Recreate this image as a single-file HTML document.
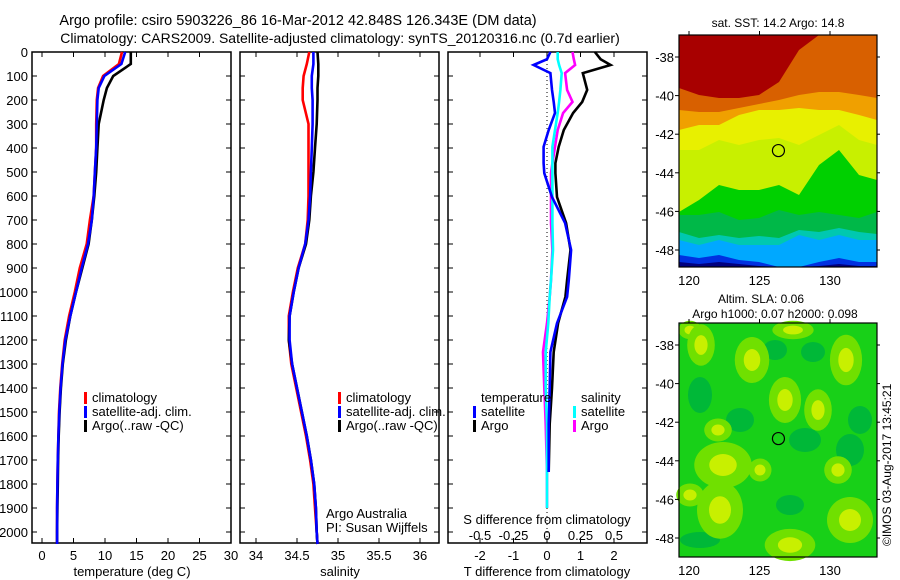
<!DOCTYPE html>
<html><head><meta charset="utf-8"><style>
body{margin:0;background:#fff}
svg{display:block;font-family:"Liberation Sans",sans-serif}
text{fill:#000;font-size:13px}
</style></head><body>
<svg id="c" width="900" height="580" viewBox="0 0 900 580">
<text x="298" y="25" text-anchor="middle" style="font-size:14.5px">Argo profile: csiro 5903226_86 16-Mar-2012 42.848S 126.343E (DM data)</text>
<text x="340" y="43" text-anchor="middle" style="font-size:14px">Climatology: CARS2009. Satellite-adjusted climatology: synTS_20120316.nc (0.7d earlier)</text>
<g id="maps"></g>
<g id="plots"></g>
</svg>
<script>
// ---- data ----
const depths = [0,50,100,150,200,300,400,500,600,700,800,900,1000,1100,1200,1300,1400,1500,1600,1700,1800,1900,2000,2050];
const tClim  = [12.7,12.2,9.7,8.9,8.7,8.6,8.6,8.4,8.2,7.6,7.1,6.0,5.2,4.3,3.6,3.2,2.9,2.7,2.6,2.5,2.45,2.4,2.4,2.4];
const tSat   = [13.2,12.6,9.9,9.0,8.8,8.7,8.6,8.4,8.2,7.9,7.3,6.3,5.4,4.5,3.7,3.25,2.95,2.75,2.6,2.5,2.45,2.4,2.4,2.4];
const tArgo  = [14.1,14.1,11.3,10.3,9.8,9.0,8.8,8.6,8.3,7.9,7.4,6.4,5.4,4.5,3.8,3.3,3.0,2.8,2.65,2.55,2.5,2.45,2.4,2.4];
const sClim  = [34.65,34.62,34.58,34.57,34.57,34.64,34.64,34.64,34.64,34.63,34.6,34.51,34.45,34.40,34.40,34.43,34.49,34.55,34.61,34.66,34.70,34.72,34.74,34.75];
const sSat   = [34.7,34.7,34.68,34.68,34.69,34.69,34.68,34.67,34.66,34.64,34.6,34.52,34.46,34.41,34.41,34.44,34.5,34.56,34.62,34.67,34.71,34.73,34.74,34.75];
const sArgo  = [34.75,34.76,34.76,34.75,34.75,34.74,34.72,34.7,34.67,34.65,34.61,34.52,34.46,34.41,34.40,34.44,34.50,34.56,34.62,34.67,34.71,34.73,34.74,34.75];
const dDepths  = [0,30,54,88,158,208,254,325,395,463,505,604,713,825,950,1020,1130,1250,1400,1550,1750,1900];
const dTSat    = [0.1,0.0,-0.4,0.1,0.15,0.2,0.24,0.05,-0.1,-0.1,-0.08,0.15,0.54,0.72,0.65,0.6,0.3,0.1,0.08,0.05,0.05,null];
const dTArgo   = [1.43,1.6,1.9,1.07,1.2,1.05,0.78,0.5,0.35,0.25,0.25,0.3,0.57,0.7,0.6,0.55,0.33,0.2,0.15,0.08,0.05,null];
const dSSat    = [0.08,0.08,0.09,0.11,0.1,0.09,0.08,0.06,0.04,0.04,0.04,0.04,0.04,0.045,0.03,0.02,0.01,-0.01,-0.01,0.0,0.0,0.0];
const dSArgo   = [0.19,0.2,0.21,0.135,0.15,0.19,0.12,0.08,0.06,0.04,0.03,0.03,0.03,0.04,0.03,0.02,0.0,-0.03,-0.02,-0.01,0.0,0.0];
const depthTicks = [0,100,200,300,400,500,600,700,800,900,1000,1100,1200,1300,1400,1500,1600,1700,1800,1900,2000];
const tTicks = [0,5,10,15,20,25,30];
const sTicks = [34,34.5,35,35.5,36];
const sTickLabels = ["34","34.5","35","35.5","36"];
const dtTicks = [-2,-1,0,1,2];
const dsTicks = [-0.5,-0.25,0,0.25,0.5];
const dsTickLabels = ["-0.5","-0.25","0","0.25","0.5"];
const latTicks = [-38,-40,-42,-44,-46,-48];
const lonTicks = [120,125,130];

const NS="http://www.w3.org/2000/svg";
const plots=document.getElementById('plots');
const maps=document.getElementById('maps');
function mk(tag,attrs,parent,txt){const e=document.createElementNS(NS,tag);for(const k in attrs)e.setAttribute(k,attrs[k]);if(txt!==undefined)e.textContent=txt;(parent||plots).appendChild(e);return e;}

const yD=d=>52+d*0.24;
const xT=t=>42+t*6.3;
const xS=s=>256+(s-34)*82;
const xDT=t=>547+t*33.5;
const xDS=s=>547+s*134;
const TOP=52,BOT=543;

function frame(x0,x1,name){
  const r=mk('rect',{x:x0,y:TOP,width:x1-x0,height:BOT-TOP,fill:'none',stroke:'#000','stroke-width':1.5});
  
  
  depthTicks.forEach(d=>{
    const t1=mk('line',{x1:x0,x2:x0+5,y1:yD(d),y2:yD(d),stroke:'#000'});
    
    
    const t2=mk('line',{x1:x1-5,x2:x1,y1:yD(d),y2:yD(d),stroke:'#000'});
    
    
  });
}
function xticks(vals,fx,labels,ly){
  vals.forEach((v,i)=>{
    const x=fx(v);
    const a=mk('line',{x1:x,x2:x,y1:TOP,y2:TOP+5,stroke:'#000'});
    
    
    const b=mk('line',{x1:x,x2:x,y1:BOT-5,y2:BOT,stroke:'#000'});
    
    
    if(labels){const l=mk('text',{x:x,y:ly,'text-anchor':'middle'},plots,labels[i]);
      
      }
  });
}
function line(xs,ds,fx,color,name){
  const pts=[];xs.forEach((v,i)=>{if(v!==null)pts.push(fx(v).toFixed(1)+','+yD(ds[i]).toFixed(1));});
  const p=mk('polyline',{points:pts.join(' '),fill:'none',stroke:color,'stroke-width':2.6,'stroke-linejoin':'miter'});
  
  
}
function legend(x,y,color,label,name){
  const r=mk('rect',{x:x,y:y-10,width:3,height:12,fill:color});
  
  
  if(label){const t=mk('text',{x:x+8,y:y},plots,label);
  
  }
}

// Panel 1
frame(32,231,'temperature-panel');
depthTicks.forEach(d=>{const l=mk('text',{x:28,y:yD(d)+5,'text-anchor':'end'},plots,String(d));
  
  });
xticks(tTicks,xT,tTicks.map(String),560);
line(tClim,depths,xT,'#f00','temp-climatology-line');
line(tArgo,depths,xT,'#000','temp-argo-line');
line(tSat,depths,xT,'#00f','temp-satellite-line');
legend(84,402,'#f00','climatology','legend-climatology');
legend(84,416,'#00f','satellite-adj. clim.','legend-satellite');
legend(84,430,'#000','Argo(..raw -QC)','legend-argo');
let t=mk('text',{x:132,y:576,'text-anchor':'middle'},plots,'temperature (deg C)');


// Panel 2
frame(240,439,'salinity-panel');
xticks(sTicks,xS,sTickLabels,560);
line(sClim,depths,xS,'#f00','sal-climatology-line');
line(sArgo,depths,xS,'#000','sal-argo-line');
line(sSat,depths,xS,'#00f','sal-satellite-line');
legend(338,402,'#f00','climatology','legend2-climatology');
legend(338,416,'#00f','satellite-adj. clim.','legend2-satellite');
legend(338,430,'#000','Argo(..raw -QC)','legend2-argo');
t=mk('text',{x:326,y:518},plots,'Argo Australia');
t=mk('text',{x:326,y:532},plots,'PI: Susan Wijffels');
t=mk('text',{x:340,y:576,'text-anchor':'middle'},plots,'salinity');

// Panel 3
frame(448,647,'difference-panel');
t=mk('line',{x1:547,x2:547,y1:TOP,y2:BOT,stroke:'#000','stroke-dasharray':'1,3'});

xticks(dtTicks,xDT,dtTicks.map(String),560);
dsTicks.forEach((v,i)=>{const l=mk('text',{x:xDS(v),y:540,'text-anchor':'middle'},plots,dsTickLabels[i]);
  });
line(dSArgo,dDepths,xDS,'#f0f','sal-diff-argo-line');
line(dSSat,dDepths,xDS,'#0ff','sal-diff-satellite-line');
line(dTArgo,dDepths,xDT,'#000','temp-diff-argo-line');
line(dTSat,dDepths,xDT,'#00f','temp-diff-satellite-line');
t=mk('text',{x:481,y:402},plots,'temperature');
t=mk('text',{x:581,y:402},plots,'salinity');
legend(473,416,'#00f','satellite','legend-t-satellite');
legend(473,430,'#000','Argo','legend-t-argo');
legend(573,416,'#0ff','satellite','legend-s-satellite');
legend(573,430,'#f0f','Argo','legend-s-argo');
t=mk('text',{x:547,y:524,'text-anchor':'middle'},plots,'S difference from climatology');
t=mk('text',{x:547,y:576,'text-anchor':'middle'},plots,'T difference from climatology');

// ---- maps ----
const MX0=679,MX1=877;
const lonX=l=>689+(l-120)*14.1;
const latY=(la,top)=>top+22+(-38-la)*19.3;
const bx=[679,699,719,739,759,779,799,819,839,859,877];
const bands=[
 ['#a80000',[88,95,98,98,95,82,50,35,35,35,35]],
 ['#d86000',[110,112,112,108,104,100,95,92,92,95,98]],
 ['#f0a000',[130,125,125,115,110,110,108,110,110,115,120]],
 ['#e8f000',[150,150,140,145,140,138,145,135,125,140,145]],
 ['#c8f000',[212,200,185,190,190,185,195,165,150,175,180]],
 ['#00d000',[215,215,212,220,218,210,215,212,215,218,212]],
 ['#00b848',[232,238,235,238,236,238,230,232,228,232,234]],
 ['#00c8b0',[240,245,240,245,245,245,235,240,235,240,240]],
 ['#00a8ff',[255,258,255,260,262,267,267,262,258,262,262]],
 ['#0030e0',[262,264,262,264,266,267,267,266,264,266,266]],
];
function mapGroup(name){
  const g=mk('g',{},maps);
  
  
  return g;
}
// map 1
const g1=mapGroup('sst-map');
let r=mk('rect',{x:MX0,y:35,width:MX1-MX0,height:232,fill:'#000080'},g1);

for(let b=bands.length-1;b>=0;b--){
  const [col,ys]=bands[b];
  let pts=[MX0+','+35];
  ys.forEach((y,i)=>{pts.push(bx[i]+','+y);});
  pts.push(MX1+','+35);
  const p=mk('polygon',{points:pts.join(' '),fill:col},g1);
  
}
// map 2
const g2=mapGroup('sla-map');
r=mk('rect',{x:MX0,y:323,width:MX1-MX0,height:234,fill:'#18d018'},g2);

[[700,395,12,18],[813,352,12,10],[805,440,16,12],[790,505,14,10],[850,450,14,16],[700,540,20,8],[740,420,14,12],[860,420,12,14],[775,350,12,10]].forEach(b=>{
  const e=mk('ellipse',{cx:b[0],cy:b[1],rx:b[2],ry:b[3],fill:'#00b838'},g2);
  
});
const blobs=[[690,330,10,8],[701,345,12,18],[793,330,18,8],[752,360,15,20],[846,360,14,22],[785,400,14,20],[818,410,12,18],[718,430,12,10],[723,465,25,20],[760,470,10,10],[838,470,12,12],[790,545,22,14],[720,510,20,25],[850,520,20,20],[690,495,12,10]];
blobs.forEach(b=>{
  const e=mk('ellipse',{cx:b[0],cy:b[1],rx:b[2]*1.15,ry:b[3]*1.15,fill:'#70e000'},g2);
  
  const e2=mk('ellipse',{cx:b[0],cy:b[1],rx:b[2]*0.55,ry:b[3]*0.55,fill:'#c8f000'},g2);
  
});
[[35,'sst'],[323,'sla']].forEach(([top,nm])=>{
  const g=nm==='sst'?g1:g2;
  const f=mk('rect',{x:MX0,y:top,width:MX1-MX0,height:nm==='sst'?232:234,fill:'none',stroke:'#000','stroke-width':1.2},g);
  
  latTicks.forEach(la=>{
    const y=latY(la,top);
    const l=mk('text',{x:674,y:y+5,'text-anchor':'end'},g,String(la));
    
    const k=mk('line',{x1:MX0-4,x2:MX0,y1:y,y2:y,stroke:'#000'},g);
    
    const k2=mk('line',{x1:MX1,x2:MX1+3,y1:y,y2:y,stroke:'#000'},g);
    
  });
  const bot=top+(nm==='sst'?232:234);
  lonTicks.forEach(lo=>{
    const x=lonX(lo);
    const l=mk('text',{x:x,y:bot+18,'text-anchor':'middle'},g,String(lo));
    
    const k=mk('line',{x1:x,x2:x,y1:top-4,y2:top,stroke:'#000'},g);
    
  });
  const c=mk('circle',{cx:lonX(126.343),cy:latY(-42.848,top),r:6,fill:'none',stroke:'#000','stroke-width':1.2},g);
  
});
t=mk('text',{x:778,y:27,'text-anchor':'middle',style:'font-size:12px'},maps,'sat. SST: 14.2 Argo: 14.8');

t=mk('text',{x:761,y:303,'text-anchor':'middle',style:'font-size:12px'},maps,'Altim. SLA: 0.06');

t=mk('text',{x:775,y:318,'text-anchor':'middle',style:'font-size:12px'},maps,'Argo h1000: 0.07 h2000: 0.098');

t=mk('text',{x:0,y:0,transform:'translate(891,546) rotate(-90)',style:'font-size:12px'},maps,'©IMOS 03-Aug-2017 13:45:21');

</script>
</body></html>
